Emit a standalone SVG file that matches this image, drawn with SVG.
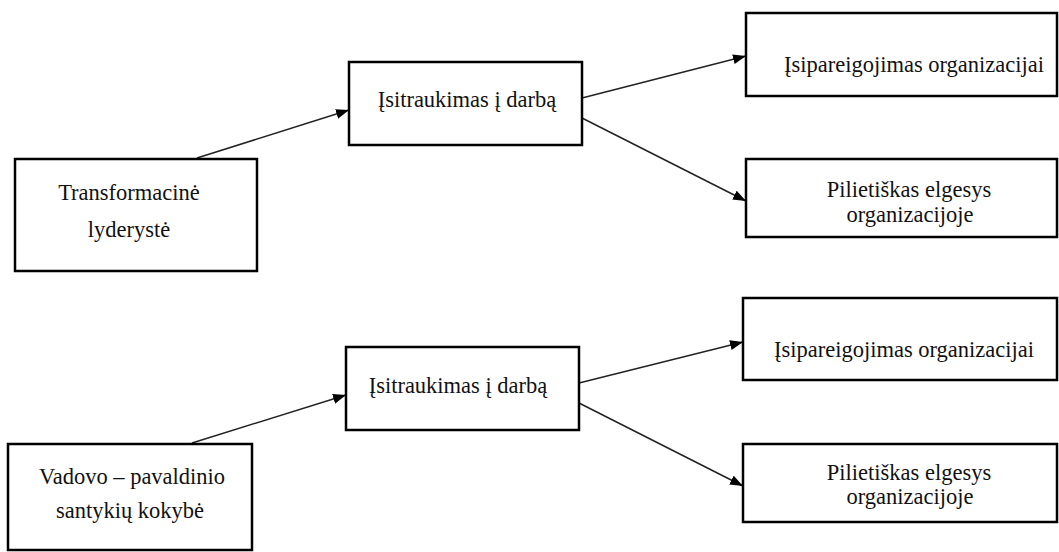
<svg xmlns="http://www.w3.org/2000/svg" width="1059" height="552" viewBox="0 0 1059 552">
<defs>
<style>
.box{fill:#fff;stroke:#000;stroke-width:2.5}
.t{font-family:"Liberation Serif","Times New Roman",Times,serif;font-size:22.5px;fill:#111;text-anchor:middle}
.c{stroke:#222;stroke-width:1.5;fill:none;marker-end:url(#ah)}
</style>
<marker id="ah" markerUnits="userSpaceOnUse" markerWidth="14" markerHeight="12" refX="13" refY="5" orient="auto">
<path d="M0,0 L13,5 L0,10 Z" fill="#000"/>
</marker>
</defs>
<rect width="1059" height="552" fill="#fff"/>
<g id="connectors">
<line class="c" x1="197" y1="158" x2="349" y2="110"/>
<line class="c" x1="582" y1="98" x2="746" y2="56"/>
<line class="c" x1="582" y1="118" x2="746" y2="201"/>
<line class="c" x1="192" y1="443" x2="346" y2="395"/>
<line class="c" x1="579" y1="383" x2="743" y2="342"/>
<line class="c" x1="579" y1="403" x2="743" y2="486"/>
</g>
<g font-family="Liberation Serif, serif">
<g id="n1"><rect class="box" x="15" y="159" width="242" height="112"/><text class="t" x="129" y="200">Transformacinė</text><text class="t" x="129" y="237">lyderystė</text></g>
<g id="n2"><rect class="box" x="349" y="62" width="233" height="83"/><text class="t" x="467" y="107">Įsitraukimas į darbą</text></g>
<g id="n3"><rect class="box" x="746" y="13" width="311" height="83"/><text class="t" x="914" y="72">Įsipareigojimas organizacijai</text></g>
<g id="n4"><rect class="box" x="746" y="159" width="311" height="78"/><text class="t" x="909" y="197">Pilietiškas elgesys</text><text class="t" x="910" y="222">organizacijoje</text></g>
<g id="n5"><rect class="box" x="8" y="444" width="244" height="106"/><text class="t" x="132" y="484">Vadovo – pavaldinio</text><text class="t" x="130" y="518">santykių kokybė</text></g>
<g id="n6"><rect class="box" x="346" y="347" width="233" height="83"/><text class="t" x="458" y="393">Įsitraukimas į darbą</text></g>
<g id="n7"><rect class="box" x="743" y="298" width="314" height="82"/><text class="t" x="904" y="357">Įsipareigojimas organizacijai</text></g>
<g id="n8"><rect class="box" x="743" y="444" width="314" height="78"/><text class="t" x="909" y="480">Pilietiškas elgesys</text><text class="t" x="910" y="504">organizacijoje</text></g>
</g>
</svg>
